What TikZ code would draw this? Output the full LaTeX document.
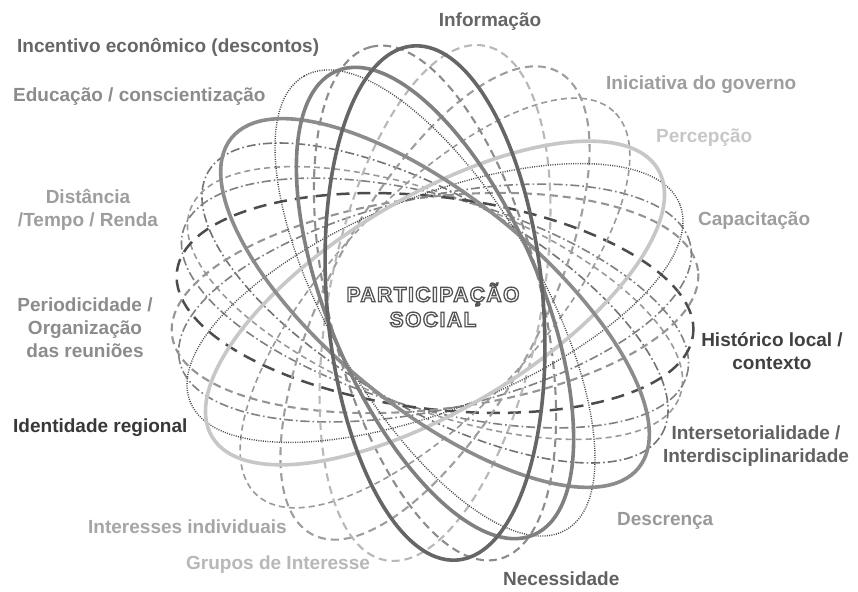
\documentclass[tikz,border=0pt]{standalone}
\usepackage{fontspec}
\setmainfont{Liberation Sans}
\definecolor{g22}{gray}{0.22}
\definecolor{g25}{gray}{0.25}
\definecolor{g30}{gray}{0.30}
\definecolor{g38}{gray}{0.38}
\definecolor{g40}{gray}{0.40}
\definecolor{g45}{gray}{0.45}
\definecolor{g50}{gray}{0.50}
\definecolor{g55}{gray}{0.55}
\definecolor{g58}{gray}{0.58}
\definecolor{g60}{gray}{0.60}
\definecolor{g62}{gray}{0.62}
\definecolor{g65}{gray}{0.65}
\definecolor{g72}{gray}{0.72}
\definecolor{g78}{gray}{0.78}
\newcommand\outlinetxt[1]{\special{pdf:literal direct 0.33 G 1.3 w 2 Tr}#1\special{pdf:literal direct 0 Tr}}
\tikzset{
  lab/.style={font=\fontsize{19}{23}\selectfont\bfseries, inner sep=0pt},
  ctr/.style={font=\fontsize{21}{25}\selectfont\bfseries\addfontfeature{LetterSpace=7}, inner sep=0pt, align=center, text=white},
  solidring/.style={line width=3.6pt},
  dashring/.style={line width=2.1pt, dash pattern=on 8pt off 5pt},
  thindash/.style={line width=1.6pt, dash pattern=on 6pt off 4pt},
  longdash/.style={line width=2.5pt, dash pattern=on 13pt off 8pt},
  dashdotring/.style={line width=1.6pt, dash pattern=on 9pt off 3pt on 1.6pt off 3pt},
  dotring/.style={line width=1.4pt, dash pattern=on 1pt off 1.3pt},
}
\begin{document}
\begin{tikzpicture}[x=1pt,y=1pt]
\useasboundingbox (0,0) rectangle (858,591);
\fill[white] (0,0) rectangle (858,591);
\coordinate (c) at (435,288);
% thin rings
\draw[dashdotring, draw=g45, rotate around={-30:(c)}] (c) ellipse (262 and 106);
\draw[thindash,    draw=g60, rotate around={-21:(c)}] (c) ellipse (262 and 106);
\draw[dashdotring, draw=g50, rotate around={-16:(c)}] (c) ellipse (262 and 106);
\draw[longdash,    draw=g30, rotate around={-7:(c)}]  (c) ellipse (260 and 106);
\draw[dashring,    draw=g58, rotate around={7:(c)}]   (c) ellipse (265 and 106);
\draw[dashdotring, draw=g50, rotate around={13:(c)}]  (c) ellipse (262 and 106);
\draw[thindash,    draw=g60, rotate around={47:(c)}]  (c) ellipse (262 and 106);
\draw[dashring,    draw=g62, rotate around={62:(c)}]  (c) ellipse (262 and 106);
\draw[dashring,    draw=g72, rotate around={79:(c)}]  (c) ellipse (262 and 106);
\draw[dashring,    draw=g55, rotate around={104:(c)}] (c) ellipse (264 and 106);
\draw[dotring,     draw=g30, rotate around={22:(c)}]  (c) ellipse (264 and 106);
\draw[dotring,     draw=g30, rotate around={120:(c)}] (c) ellipse (262 and 106);
% thick solid rings
\draw[solidring, draw=g78, rotate around={31:(c)}]  (c) ellipse (260 and 106);
\draw[solidring, draw=g55, rotate around={141:(c)}] (c) ellipse (262 and 106);
\draw[solidring, draw=g50, rotate around={113:(c)}] (c) ellipse (252 and 106);
\draw[solidring, draw=g40, rotate around={95:(c)}]  (c) ellipse (258 and 108);
% centre title
\node[ctr] (title) at (433,286) {\outlinetxt{PARTICIPAÇÃO}\\\outlinetxt{SOCIAL}};
% labels
\node[lab, text=g40] (info) at (490,569) {Informação};
\node[lab, text=g40, anchor=west] (incent) at (17,544) {Incentivo econômico (descontos)};
\node[lab, text=g55, anchor=west] (educ) at (13,494) {Educação / conscientização};
\node[lab, text=g62, anchor=west] (inic) at (606,506) {Iniciativa do governo};
\node[lab, text=g78, anchor=west] (perc) at (656,453) {Percepção};
\node[lab, text=g62, anchor=west] (capa) at (698,370) {Capacitação};
\node[lab, text=g25, align=center] (hist) at (772,240) {Histórico local /\\contexto};
\node[lab, text=g38, align=center] (inter) at (756,145) {Intersetorialidade /\\Interdisciplinaridade};
\node[lab, text=g60, anchor=west] (desc) at (617,70) {Descrença};
\node[lab, text=g38, anchor=west] (nec) at (503,12) {Necessidade};
\node[lab, text=g72, anchor=west] (grup) at (186,26) {Grupos de Interesse};
\node[lab, text=g65, anchor=west] (indiv) at (88,64) {Interesses individuais};
\node[lab, text=g22, anchor=west] (ident) at (13,163) {Identidade regional};
\node[lab, text=g55, align=center] (perio) at (85,263) {Periodicidade /\\Organização\\das reuniões};
\node[lab, text=g62, align=center] (dist) at (88,381) {Distância\\/Tempo / Renda};
\end{tikzpicture}
\end{document}
